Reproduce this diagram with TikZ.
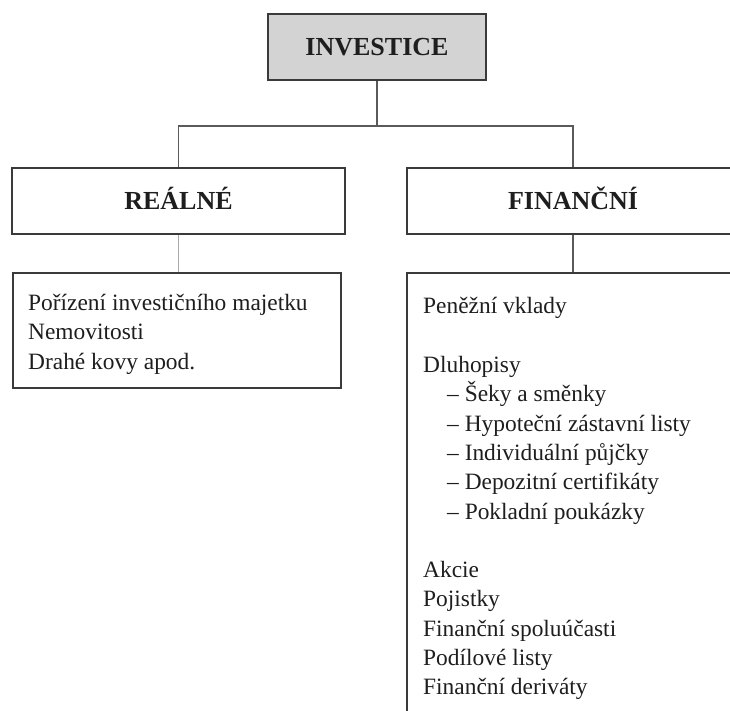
\documentclass[tikz,border=0pt]{standalone}
\usepackage{fontspec}
\setmainfont{Liberation Serif}
\begin{document}
\begin{tikzpicture}[x=1pt,y=-1pt,
  box/.style={draw=boxline,line width=1.8pt,rectangle,inner sep=0pt},
  head/.style={box,font=\fontsize{26}{30}\selectfont\bfseries,text=txt,text height=18pt,text depth=0pt},
  conn/.style={draw=connline,line width=1.3pt},
  item/.style={anchor=base west,inner sep=0pt,font=\fontsize{23.4}{29}\selectfont,text=txt}]
\definecolor{boxline}{HTML}{3A3A3A}
\definecolor{connline}{HTML}{5A5A5A}
\definecolor{lightconn}{HTML}{A8A8A8}
\definecolor{headfill}{HTML}{D3D3D3}
\definecolor{txt}{HTML}{1E1E1E}
\useasboundingbox (0,0) rectangle (730,711);
\fill[white] (0,0) rectangle (730,711);
\clip (0,0) rectangle (730,711);

% heading boxes
\node[head,fill=headfill,minimum width=218pt,minimum height=66pt] (inv) at (377,47) {INVESTICE};
\node[head,minimum width=333pt,minimum height=66pt] (real) at (178.5,201) {REÁLNÉ};
\node[head,minimum width=332pt,minimum height=66pt] (fin) at (573,201) {FINANČNÍ};

% content boxes
\node[box,minimum width=328pt,minimum height=115pt] (lbox) at (177,330.5) {};
\node[box,minimum width=332pt,minimum height=470pt] (rbox) at (573,508) {};

% connectors
\coordinate (j) at (377,126);
\draw[conn] (inv.south) -- (j);
\draw[conn] (real.north) |- (j) -| (fin.north);
\draw[draw=lightconn,line width=1.3pt] (real.south) -- (real.south |- lbox.north);
\draw[conn] (fin.south) -- (rbox.north);

% left list
\node[item] (l1) at (28,310) {Pořízení investičního majetku};
\node[item] (l2) at (28,339.5) {Nemovitosti};
\node[item] (l3) at (28,369) {Drahé kovy apod.};

% right list
\node[item] (r1) at (423,313.5) {Peněžní vklady};
\node[item] (r2) at (423,372.5) {Dluhopisy};
\node[item] (r3) at (447,401.8) {– Šeky a směnky};
\node[item] (r4) at (447,431.1) {– Hypoteční zástavní listy};
\node[item] (r5) at (447,460.4) {– Individuální půjčky};
\node[item] (r6) at (447,489.7) {– Depozitní certifikáty};
\node[item] (r7) at (447,519) {– Pokladní poukázky};
\node[item] (r8) at (423,577.6) {Akcie};
\node[item] (r9) at (423,606.9) {Pojistky};
\node[item] (r10) at (423,636.2) {Finanční spoluúčasti};
\node[item] (r11) at (423,665.5) {Podílové listy};
\node[item] (r12) at (423,694.8) {Finanční deriváty};
\end{tikzpicture}
\end{document}
